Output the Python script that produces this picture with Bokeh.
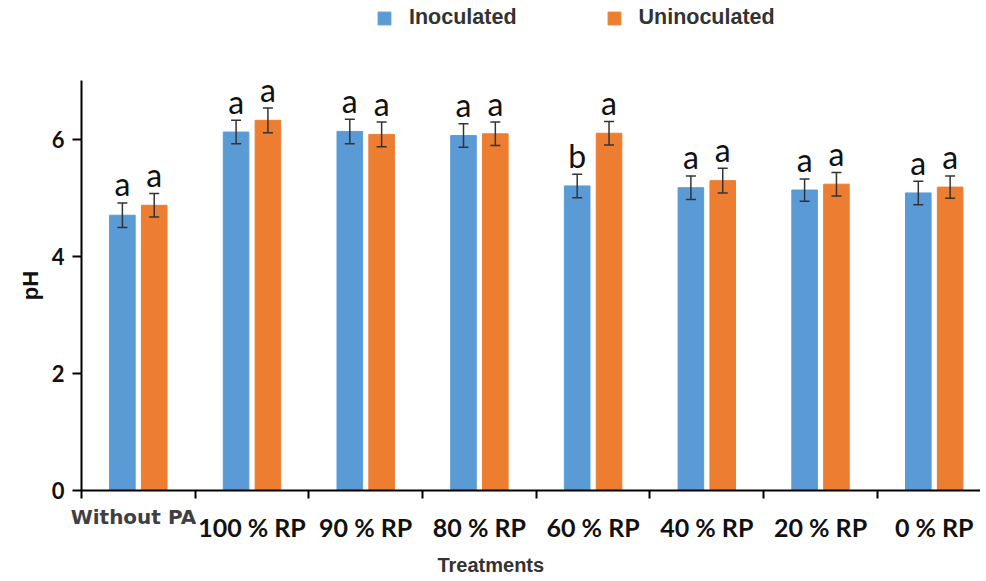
from bokeh.plotting import figure
from bokeh.models import (ColumnDataSource, Whisker, TeeHead, FixedTicker, Legend,
                          Label, Range1d)
from bokeh.core.properties import value
from bokeh.embed import file_html
from bokeh.resources import INLINE

categories = ["Without PA", "100 % RP", "90 % RP", "80 % RP", "60 % RP", "40 % RP", "20 % RP", "0 % RP"]
inoculated = [4.70, 6.12, 6.13, 6.06, 5.20, 5.17, 5.13, 5.08]
inoculated_err = [0.21, 0.20, 0.21, 0.20, 0.20, 0.20, 0.19, 0.20]
inoculated_letters = ["a", "a", "a", "a", "b", "a", "a", "a"]
uninoculated = [4.87, 6.32, 6.08, 6.09, 6.10, 5.29, 5.23, 5.18]
uninoculated_err = [0.20, 0.21, 0.21, 0.20, 0.20, 0.21, 0.20, 0.19]
uninoculated_letters = ["a", "a", "a", "a", "a", "a", "a", "a"]
y_ticks = [0, 2, 4, 6]

BLUE = "#5B9BD5"
ORANGE = "#ED7D31"
OFF = 0.14
BW = 0.225

centers = [i + 0.5 for i in range(len(categories))]

def make_src(vals, errs, letters, off):
    return ColumnDataSource(dict(
        x=[c + off for c in centers],
        top=vals,
        upper=[v + e for v, e in zip(vals, errs)],
        lower=[v - e for v, e in zip(vals, errs)],
        letter=letters,
    ))

src_i = make_src(inoculated, inoculated_err, inoculated_letters, -OFF)
src_u = make_src(uninoculated, uninoculated_err, uninoculated_letters, OFF)

p = figure(width=980, height=575, output_backend="svg", toolbar_location=None,
           x_range=Range1d(-0.712, 7.907), y_range=Range1d(-1.451, 8.366),
           min_border_left=0, min_border_top=0, min_border_bottom=0, min_border_right=0)
p.outline_line_color = None
p.xgrid.visible = False
p.ygrid.visible = False

rb = p.vbar(x="x", top="top", width=BW, source=src_i, fill_color=BLUE, line_color=BLUE)
ro = p.vbar(x="x", top="top", width=BW, source=src_u, fill_color=ORANGE, line_color=ORANGE)

for src in (src_i, src_u):
    w = Whisker(source=src, base="x", upper="upper", lower="lower",
                line_color="#333333", line_width=1.5,
                upper_head=TeeHead(size=10, line_color="#333333", line_width=1.5),
                lower_head=TeeHead(size=10, line_color="#333333", line_width=1.5))
    w.level = "overlay"
    p.add_layout(w)
    t = p.text(x="x", y="upper", text="letter", source=src,
               text_font=value("Lato"), text_font_size="32px", text_color="#111111",
               text_align="center", text_baseline="alphabetic", y_offset=-19)
    t.level = "overlay"

# x axis drawn at y = 0 inside the frame
xa = p.xaxis[0]
xa.fixed_location = 0
xa.bounds = (0, 7.907)
xa.ticker = FixedTicker(ticks=centers, minor_ticks=list(range(0, 9)))
xa.major_label_overrides = {c: (lab if i > 0 else "") for i, (c, lab) in enumerate(zip(centers, categories))}
xa.major_tick_line_color = None
xa.major_tick_out = 0
xa.major_tick_in = 0
xa.minor_tick_out = 8
xa.minor_tick_in = 0
xa.minor_tick_line_color = "black"
xa.minor_tick_line_width = 2
xa.axis_line_color = "black"
xa.axis_line_width = 2
xa.major_label_standoff = 13
xa.major_label_text_font = "Lato"
xa.major_label_text_font_style = "bold"
xa.major_label_text_font_size = "25px"
xa.major_label_text_color = "#111111"

# y axis drawn at x = 0 inside the frame
ya = p.yaxis[0]
ya.fixed_location = 0
ya.bounds = (0, 7)
ya.ticker = FixedTicker(ticks=y_ticks)
ya.minor_tick_line_color = None
ya.major_tick_out = 9
ya.major_tick_in = 0
ya.major_tick_line_width = 2
ya.major_tick_line_color = "black"
ya.axis_line_color = "black"
ya.axis_line_width = 2
ya.major_label_standoff = 8
ya.major_label_text_font = "Lato"
ya.major_label_text_font_style = "bold"
ya.major_label_text_font_size = "22px"
ya.major_label_text_color = "#111111"
ya.axis_label = "pH"
ya.axis_label_text_font = "Liberation Sans"
ya.axis_label_text_font_style = "bold"
ya.axis_label_text_font_size = "22px"
ya.axis_label_text_color = "#111111"
ya.axis_label_standoff = 6

# "Without PA" label (raised, grey)
p.add_layout(Label(x=0.457, y=-0.444, text=categories[0], text_font="DejaVu Sans",
                   text_font_style="bold", text_font_size="20px", text_color="#404040",
                   text_align="center", text_baseline="middle"))
# x-axis title
p.add_layout(Label(x=3.6, y=-1.28, text="Treatments", text_font="Liberation Sans",
                   text_font_style="bold", text_font_size="20px", text_color="#333333",
                   text_align="center", text_baseline="middle"))

legend = Legend(items=[("Inoculated", [rb]), ("Uninoculated", [ro])],
                orientation="horizontal", location=(376, 545),
                padding=0, margin=0, spacing=89, label_standoff=17,
                glyph_width=16, glyph_height=16,
                border_line_color=None, background_fill_alpha=0,
                label_text_font="Liberation Sans", label_text_font_style="bold",
                label_text_font_size="21.5px", label_text_color="#333333")
p.add_layout(legend, "center")

open("out.html", "w").write(file_html(p, INLINE))
